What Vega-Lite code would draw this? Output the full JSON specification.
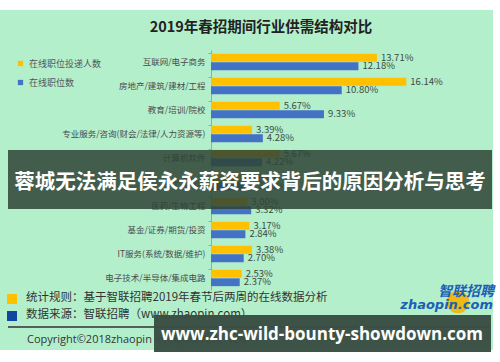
{
  "$schema": "https://vega.github.io/schema/vega-lite/v6.json",
  "autosize": {"type": "fit", "contains": "padding"},
  "width": 500,
  "height": 362,
  "padding": 0,
  "background": "#ffffff",
  "config": {"view": {"stroke": null, "fill": "#b4efcc"}, "font": "Noto Sans CJK SC"},
  "datasets": {
    "supply": [
      {"industry": "互联网/电子商务", "series": "在线职位投递人数", "value": 0.1371},
      {"industry": "互联网/电子商务", "series": "在线职位数", "value": 0.1218},
      {"industry": "房地产/建筑/建材/工程", "series": "在线职位投递人数", "value": 0.1614},
      {"industry": "房地产/建筑/建材/工程", "series": "在线职位数", "value": 0.1080},
      {"industry": "教育/培训/院校", "series": "在线职位投递人数", "value": 0.0567},
      {"industry": "教育/培训/院校", "series": "在线职位数", "value": 0.0933},
      {"industry": "专业服务/咨询(财会/法律/人力资源等)", "series": "在线职位投递人数", "value": 0.0339},
      {"industry": "专业服务/咨询(财会/法律/人力资源等)", "series": "在线职位数", "value": 0.0428},
      {"industry": "计算机软件", "series": "在线职位投递人数", "value": 0.0567},
      {"industry": "计算机软件", "series": "在线职位数", "value": 0.0422},
      {"industry": "中介服务", "series": "在线职位投递人数", "value": 0.0290},
      {"industry": "中介服务", "series": "在线职位数", "value": 0.0360},
      {"industry": "医药/生物工程", "series": "在线职位投递人数", "value": 0.0300},
      {"industry": "医药/生物工程", "series": "在线职位数", "value": 0.0332},
      {"industry": "基金/证券/期货/投资", "series": "在线职位投递人数", "value": 0.0317},
      {"industry": "基金/证券/期货/投资", "series": "在线职位数", "value": 0.0284},
      {"industry": "IT服务(系统/数据/维护)", "series": "在线职位投递人数", "value": 0.0338},
      {"industry": "IT服务(系统/数据/维护)", "series": "在线职位数", "value": 0.0270},
      {"industry": "电子技术/半导体/集成电路", "series": "在线职位投递人数", "value": 0.0253},
      {"industry": "电子技术/半导体/集成电路", "series": "在线职位数", "value": 0.0237}
    ],
    "one": [{}]
  },
  "layer": [
    {
      "data": {"name": "supply"},
      "mark": {"type": "bar"},
      "encoding": {
        "y": {
          "field": "industry", "type": "nominal", "sort": null,
          "scale": {"range": [50, 290], "paddingInner": 0.32, "paddingOuter": 0.16},
          "axis": {
            "title": null, "offset": -211, "domainColor": "#9aa8a0", "tickColor": "#9aa8a0",
            "tickSize": 3, "bandPosition": 0, "labelFontSize": 8.5, "labelColor": "#4a4a4a",
            "labelPadding": 3, "labelLimit": 300, "zindex": 0
          }
        },
        "yOffset": {"field": "series", "sort": ["在线职位投递人数", "在线职位数"], "scale": {"paddingInner": 0.08}},
        "x": {
          "field": "value", "type": "quantitative",
          "scale": {"domain": [-0.1744, 0.2388], "nice": false, "zero": false},
          "axis": null
        },
        "color": {
          "field": "series", "type": "nominal",
          "scale": {"domain": ["在线职位投递人数", "在线职位数"], "range": ["#ffc000", "#4472c4"]},
          "legend": {
            "orient": "none", "legendX": 16, "legendY": 59, "title": null,
            "symbolType": "square", "symbolSize": 28, "labelFontSize": 9, "labelColor": "#555555",
            "rowPadding": 9, "symbolStrokeWidth": 0
          }
        }
      }
    },
    {
      "data": {"name": "supply"},
      "mark": {"type": "text", "align": "left", "baseline": "middle", "dx": 4, "fontSize": 9.5, "color": "#3b4b40"},
      "encoding": {
        "y": {"field": "industry", "type": "nominal", "sort": null},
        "yOffset": {"field": "series", "sort": ["在线职位投递人数", "在线职位数"]},
        "x": {"field": "value", "type": "quantitative"},
        "text": {"field": "value", "format": ".2%"}
      }
    },
    {
      "data": {"name": "one"},
      "mark": {"type": "rect", "color": "#ffffff"},
      "encoding": {"x": {"value": 0}, "x2": {"value": 500}, "y": {"value": 0}, "y2": {"value": 10}}
    },
    {
      "data": {"name": "one"},
      "mark": {"type": "rect", "color": "#ffffff"},
      "encoding": {"x": {"value": 493}, "x2": {"value": 500}, "y": {"value": 0}, "y2": {"value": 362}}
    },
    {
      "data": {"name": "one"},
      "mark": {"type": "rect", "color": "#ffffff"},
      "encoding": {"x": {"value": 0}, "x2": {"value": 500}, "y": {"value": 350}, "y2": {"value": 362}}
    },
    {
      "data": {"name": "one"},
      "mark": {"type": "text", "text": "2019年春招期间行业供需结构对比", "fontSize": 14.5, "fontWeight": "bold", "color": "#222222", "align": "center", "baseline": "middle"},
      "encoding": {"x": {"value": 261}, "y": {"value": 28}}
    },
    {
      "data": {"name": "one"},
      "mark": {"type": "rect", "color": "#ffc000"},
      "encoding": {"x": {"value": 7}, "x2": {"value": 17}, "y": {"value": 294}, "y2": {"value": 304}}
    },
    {
      "data": {"name": "one"},
      "mark": {"type": "rect", "color": "#0d47a1"},
      "encoding": {"x": {"value": 7}, "x2": {"value": 17}, "y": {"value": 311}, "y2": {"value": 321}}
    },
    {
      "data": {"name": "one"},
      "mark": {"type": "text", "text": "统计规则：基于智联招聘2019年春节后两周的在线数据分析", "fontSize": 11.5, "color": "#333333", "align": "left", "baseline": "middle"},
      "encoding": {"x": {"value": 26}, "y": {"value": 298}}
    },
    {
      "data": {"name": "one"},
      "mark": {"type": "text", "text": "数据来源：智联招聘（www.zhaopin.com）", "fontSize": 11.5, "color": "#333333", "align": "left", "baseline": "middle"},
      "encoding": {"x": {"value": 26}, "y": {"value": 315}}
    },
    {
      "data": {"name": "one"},
      "mark": {"type": "rule", "color": "#333333", "strokeWidth": 1.5},
      "encoding": {"x": {"value": 8}, "x2": {"value": 490}, "y": {"value": 327}}
    },
    {
      "data": {"name": "one"},
      "mark": {"type": "text", "text": "Copyright©2018zhaopin all rights reserved", "fontSize": 11, "font": "Open Sans", "color": "#333333", "align": "left", "baseline": "middle"},
      "encoding": {"x": {"value": 27}, "y": {"value": 340}}
    },
    {
      "data": {"name": "one"},
      "mark": {"type": "point", "shape": "circle", "filled": true, "color": "#f5b400", "size": 500, "opacity": 0.9},
      "encoding": {"x": {"value": 458}, "y": {"value": 302}}
    },
    {
      "data": {"name": "one"},
      "mark": {"type": "text", "text": "智联招聘", "fontSize": 14, "fontWeight": "bold", "fontStyle": "italic", "color": "#1b5fb8", "align": "right", "baseline": "middle"},
      "encoding": {"x": {"value": 494}, "y": {"value": 292}}
    },
    {
      "data": {"name": "one"},
      "mark": {"type": "text", "text": "zhaopin.com", "fontSize": 13, "font": "DejaVu Sans", "fontWeight": "bold", "fontStyle": "italic", "color": "#1b5fb8", "align": "right", "baseline": "middle"},
      "encoding": {"x": {"value": 493}, "y": {"value": 305}}
    },
    {
      "data": {"name": "one"},
      "mark": {"type": "rect", "color": "#2e4535", "opacity": 0.86},
      "encoding": {"x": {"value": 8}, "x2": {"value": 492}, "y": {"value": 150}, "y2": {"value": 209}}
    },
    {
      "data": {"name": "one"},
      "mark": {"type": "text", "text": "蓉城无法满足侯永永薪资要求背后的原因分析与思考", "fontSize": 20.5, "fontWeight": "bold", "color": "#ffffff", "align": "center", "baseline": "middle"},
      "encoding": {"x": {"value": 250}, "y": {"value": 183}}
    },
    {
      "data": {"name": "one"},
      "mark": {"type": "rect", "color": "#3a4d42", "opacity": 0.97},
      "encoding": {"x": {"value": 154}, "x2": {"value": 491}, "y": {"value": 315}, "y2": {"value": 352}}
    },
    {
      "data": {"name": "one"},
      "mark": {"type": "text", "text": "www.zhc-wild-bounty-showdown.com", "fontSize": 17, "font": "Open Sans", "fontWeight": "bold", "color": "#ffffff", "align": "center", "baseline": "middle"},
      "encoding": {"x": {"value": 322}, "y": {"value": 335}}
    }
  ]
}
